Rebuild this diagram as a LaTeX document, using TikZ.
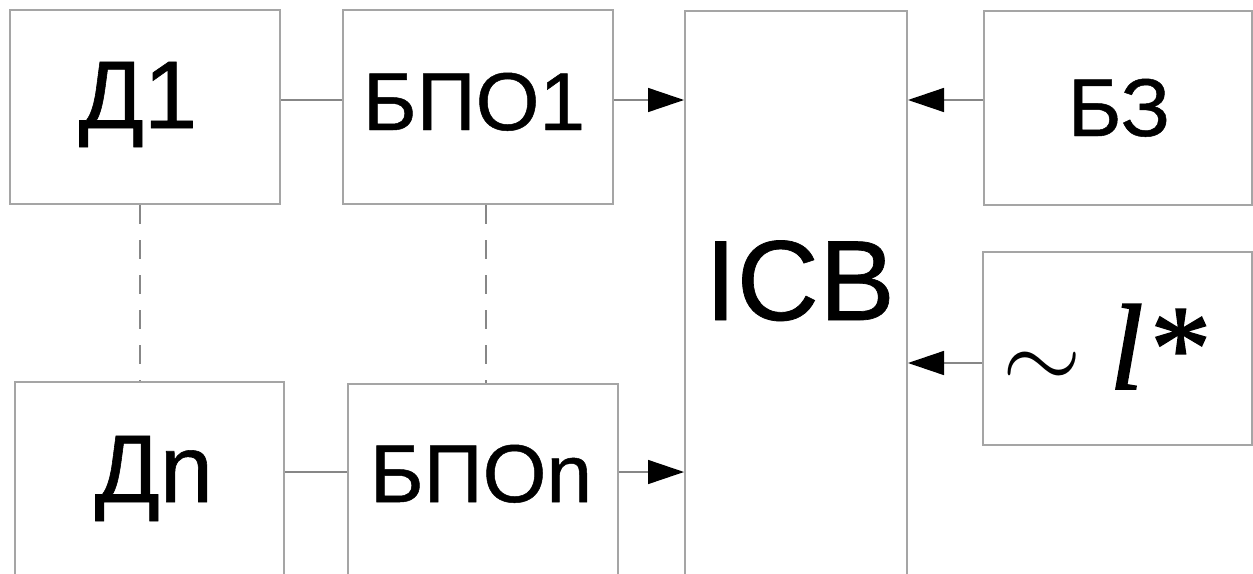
\RequirePackage{fix-cm}
\documentclass[tikz,border=0pt]{standalone}
\usepackage{fontspec}
\setmainfont{Liberation Sans}[FakeBold=0.6]
\newfontfamily\timesit{Liberation Serif Italic}[FakeBold=1.4]
\usetikzlibrary{arrows.meta}
\definecolor{framegray}{RGB}{165,165,165}
\definecolor{wiregray}{RGB}{135,135,135}
\tikzset{
  block/.style={draw=framegray, line width=2pt, rectangle, inner sep=0pt, anchor=north west},
  wire/.style={draw=wiregray, line width=1.5pt},
  tip/.style={-{Triangle[length=36pt,width=24pt,color=black]}},
  dashwire/.style={wire, dash pattern=on 19pt off 16pt},
  lbl/.style={inner sep=0pt, anchor=base, text=black},
}
\begin{document}
\begin{tikzpicture}[x=1pt, y=-1pt]
  \useasboundingbox (0,0) rectangle (1253,573);
  \fill[white] (0,0) rectangle (1253,573);
  \clip (0,0) rectangle (1253,573);

  % blocks
  \node[block, minimum width=270pt, minimum height=194pt] (d1)   at (9,9)     {};
  \node[block, minimum width=270pt, minimum height=194pt] (bpo1) at (342,9)   {};
  \node[block, minimum width=222pt, minimum height=590pt] (icb)  at (684,10)  {};
  \node[block, minimum width=268pt, minimum height=194pt] (bz)   at (983,10)  {};
  \node[block, minimum width=269pt, minimum height=193pt] (lst)  at (982,251) {};
  \node[block, minimum width=269pt, minimum height=220pt] (dn)   at (14,381)  {};
  \node[block, minimum width=270pt, minimum height=220pt] (bpon) at (347,383) {};

  % labels
  \node[lbl, font=\fontsize{96}{96}\selectfont]  (td1)   at (138,128)  {Д1};
  \node[lbl, font=\fontsize{82}{82}\selectfont]  (tbpo1) at (474,130)  {БПО1};
  \node[lbl, font=\fontsize{114}{114}\selectfont] (ticb) at (800,320)  {ICB};
  \node[lbl, font=\fontsize{82}{82}\selectfont]  (tbz)   at (1119,136) {БЗ};
  \node[lbl, font=\fontsize{96}{96}\selectfont]  (tdn)   at (154,502)  {Дn};
  \node[lbl, font=\fontsize{82}{82}\selectfont]  (tbpon) at (481,502)  {БПОn};
  \node[inner sep=0pt, anchor=base west] (tlst) at (1002,389)
    {\fontsize{102}{102}\selectfont$\sim$\hspace{28pt}{\timesit\fontsize{122}{122}\selectfont l\kern1pt*}};

  % connector rows and dashed columns
  \coordinate (ya) at (0,100);
  \coordinate (yb) at (0,363);
  \coordinate (yc) at (0,472);
  \coordinate (xa) at (140,0);
  \coordinate (xb) at (486,0);

  \draw[wire]      (d1.east |- ya)   -- (bpo1.west |- ya);
  \draw[wire,tip]  (bpo1.east |- ya) -- (icb.west |- ya);
  \draw[wire,tip]  (bz.west |- ya)   -- (icb.east |- ya);
  \draw[wire,tip]  (lst.west |- yb)  -- (icb.east |- yb);
  \draw[wire]      (dn.east |- yc)   -- (bpon.west |- yc);
  \draw[wire,tip]  (bpon.east |- yc) -- (icb.west |- yc);

  \draw[dashwire] (d1.south -| xa)   -- (dn.north -| xa);
  \draw[dashwire] (bpo1.south -| xb) -- (bpon.north -| xb);
\end{tikzpicture}
\end{document}
